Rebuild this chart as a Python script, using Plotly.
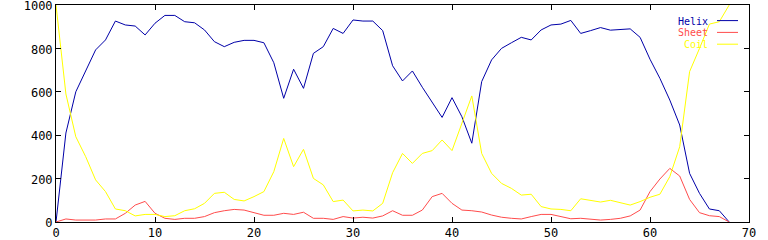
import plotly.graph_objects as go

positions = list(range(69))

helix = [0, 410, 600, 700, 793, 839, 926, 908, 903, 862,
         916, 952, 952, 923, 918, 885, 831, 808, 828, 837,
         837, 826, 734, 570, 704, 616, 777, 808, 892, 869,
         931, 926, 926, 882, 720, 650, 696, 621, 550, 482,
         573, 485, 363, 647, 747, 800, 826, 851, 839, 885,
         908, 912, 929, 869, 882, 896, 884, 888, 890, 851,
         750, 662, 562, 447, 224, 132, 60, 52, 0]

sheet = [0, 14, 9, 9, 9, 14, 14, 40, 78, 95,
         40, 17, 12, 17, 17, 25, 43, 52, 58, 55,
         43, 31, 31, 40, 35, 45, 17, 17, 12, 25,
         18, 22, 18, 28, 52, 31, 31, 55, 117, 132,
         86, 55, 52, 46, 32, 22, 17, 14, 25, 35,
         35, 25, 15, 17, 14, 9, 12, 17, 28, 55,
         140, 198, 247, 212, 104, 43, 29, 25, 0]

coil = [1000, 590, 393, 301, 194, 140, 60, 52, 28, 35,
        35, 25, 29, 52, 61, 86, 132, 137, 104, 97,
        117, 140, 232, 385, 255, 335, 201, 171, 94, 101,
        51, 55, 51, 86, 227, 316, 270, 316, 329, 378,
        329, 455, 581, 316, 224, 178, 155, 124, 128, 71,
        60, 58, 52, 107, 98, 92, 100, 89, 78, 94,
        114, 128, 209, 347, 693, 800, 912, 923, 1000]

series_names = ["Helix", "Sheet", "Coil"]
series_colors = ["#0000a8", "#ff4c4c", "#ffff00"]
x_ticks = [0, 10, 20, 30, 40, 50, 60, 70]
y_ticks = [0, 200, 400, 600, 800, 1000]

FONT = "DejaVu Sans Mono"

# plot area in pixels
L, R, T, B = 56, 749, 5, 222

def px_x(p):
    return (p - L) / (R - L)

def px_y(p):
    return (B - p) / (B - T)

fig = go.Figure()
for name, vals, col in zip(series_names, [helix, sheet, coil], series_colors):
    fig.add_trace(go.Scatter(x=positions, y=vals, mode="lines", name=name,
                             line=dict(color=col, width=1), showlegend=False))

# gnuplot-style key: right-aligned text followed by a line sample
key_y = [20.6, 32.4, 44.2]
for name, col, yy in zip(series_names, series_colors, key_y):
    yp = px_y(yy)
    fig.add_annotation(x=px_x(709), y=yp, xref="paper", yref="paper",
                       text=name, showarrow=False, xanchor="right", yanchor="middle",
                       font=dict(family=FONT, size=10, color=col),
                       height=10, borderpad=0)
    fig.add_shape(type="line", xref="paper", yref="paper",
                  x0=px_x(717), x1=px_x(738), y0=yp, y1=yp,
                  line=dict(color=col, width=1))

axis_common = dict(showline=True, linecolor="black", linewidth=1, mirror="ticks",
                   ticks="inside", ticklen=5, tickcolor="black", tickwidth=1,
                   showgrid=False, zeroline=False, automargin=False,
                   ticklabeloverflow="allow",
                   tickfont=dict(family=FONT, size=12, color="black"))

fig.update_layout(
    width=768, height=240,
    margin=dict(l=L, r=768 - R, t=T, b=240 - B, pad=0),
    paper_bgcolor="white", plot_bgcolor="white",
    xaxis=dict(range=[0, 70], tickvals=x_ticks, **axis_common),
    yaxis=dict(range=[0, 1000], tickvals=y_ticks, ticklabelshift=1, **axis_common),
)

fig.write_html("out.html")
